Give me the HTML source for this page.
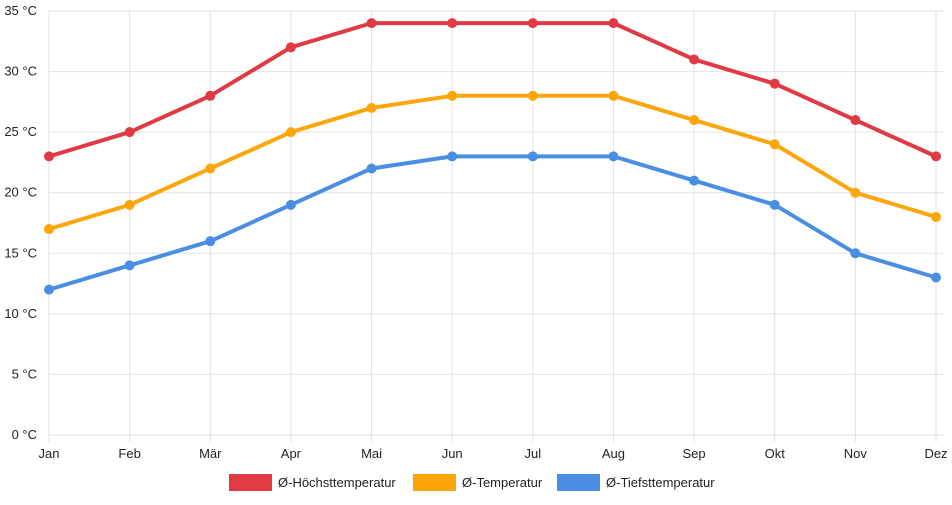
<!DOCTYPE html>
<html><head><meta charset="utf-8"><style>
body{margin:0;background:#fff;font-family:"Liberation Sans",sans-serif}
svg text{font-family:"Liberation Sans",sans-serif;font-size:13px;fill:#222}
</style></head><body>
<svg id="c" width="952" height="500"></svg>
<script>
const months=["Jan","Feb","Mär","Apr","Mai","Jun","Jul","Aug","Sep","Okt","Nov","Dez"];
const maxT=[23,25,28,32,34,34,34,34,31,29,26,23];
const avgT=[17,19,22,25,27,28,28,28,26,24,20,18];
const minT=[12,14,16,19,22,23,23,23,21,19,15,13];
const yTicks=[0,5,10,15,20,25,30,35];
const seriesNames=["Ø-Höchsttemperatur","Ø-Temperatur","Ø-Tiefsttemperatur"];
const colors=["#e03a45","#fca60b","#4a8ee3"];
const svg=document.getElementById('c');const NS="http://www.w3.org/2000/svg";
const x0=49,x1=936,y0=435,y1=11;
const X=i=>x0+i*(x1-x0)/(months.length-1);
const Y=v=>y0-(v/35)*(y0-y1);
function el(t,a,p){const e=document.createElementNS(NS,t);for(const k in a)e.setAttribute(k,a[k]);(p||svg).appendChild(e);return e;}
yTicks.forEach(v=>{
 const l=el('line',{x1:x0,x2:x1+8,y1:Y(v),y2:Y(v),stroke:'#e2e2e2'});
 
 
 const t=el('text',{x:37,y:Y(v)+4,'text-anchor':'end'});t.textContent=v+' °C';
 
 
});
months.forEach((m,i)=>{
 const l=el('line',{x1:X(i),x2:X(i),y1:y1,y2:y0+7,stroke:'#e2e2e2'});
 
 
 const t=el('text',{x:X(i),y:458,'text-anchor':'middle'});t.textContent=m;
 
 
});
[maxT,avgT,minT].forEach((d,s)=>{
 const p=el('polyline',{points:d.map((v,i)=>X(i)+','+Y(v)).join(' '),fill:'none',stroke:colors[s],'stroke-width':4,'stroke-linejoin':'round'});
 
 
 d.forEach((v,i)=>{const c=el('circle',{cx:X(i),cy:Y(v),r:5,fill:colors[s]});
 
 });
});
const lx=[229,413,557];
seriesNames.forEach((n,s)=>{
 const g=el('g',{});
 
 
 el('rect',{x:lx[s],y:474,width:43,height:17,fill:colors[s]},g);
 const t=el('text',{x:lx[s]+49,y:487},g);t.textContent=n;
});
</script>
</body></html>
